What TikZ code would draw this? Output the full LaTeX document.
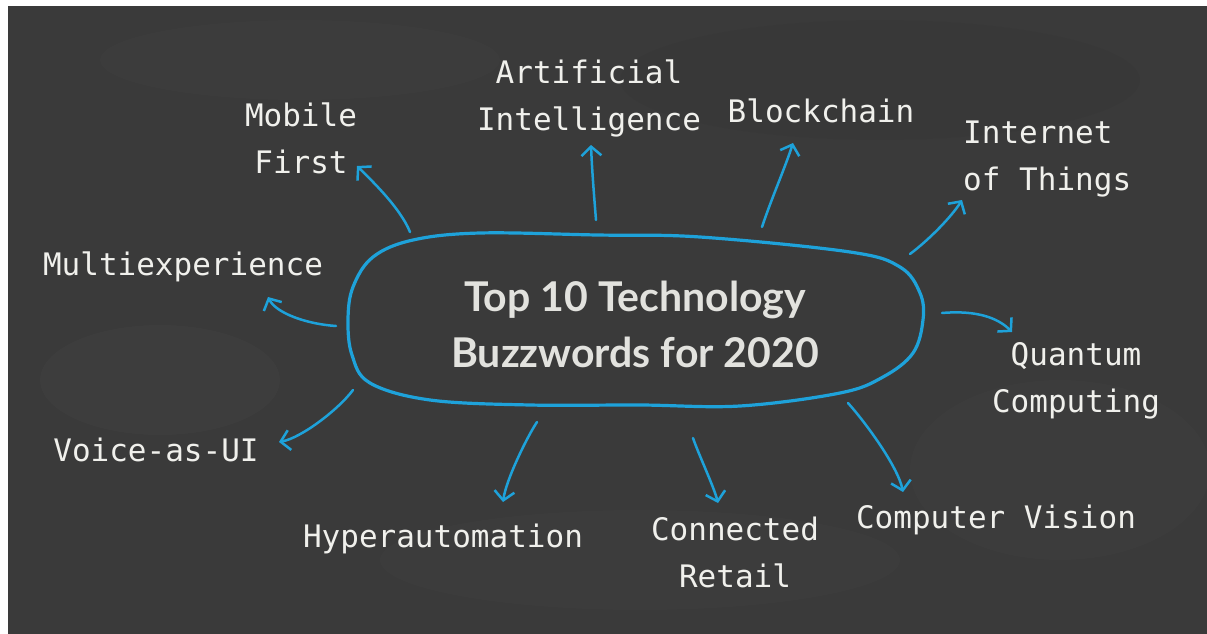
\documentclass[tikz,border=0pt]{standalone}
\usepackage{fontspec}
\usetikzlibrary{arrows.meta}
\newfontfamily\chalkfont{DejaVu Sans Mono}
\newfontfamily\titlefont{Lato}
\definecolor{board}{RGB}{58,58,58}
\definecolor{chalkblue}{RGB}{30,162,218}
\definecolor{chalk}{RGB}{240,240,236}
\definecolor{chalkgrey}{RGB}{226,226,222}

\begin{document}
\begin{tikzpicture}[x=1pt,y=-1pt,
  word/.style={text=chalk, font=\chalkfont\fontsize{31}{47}\selectfont,
    align=center, inner sep=0pt, anchor=base},
  pointer/.style={draw=chalkblue, line width=2.5pt, line cap=round,
    -{Straight Barb[length=9pt,width=20pt,line width=2.5pt]}},
  loop/.style={draw=chalkblue, line width=3.2pt, line cap=round},
]
% page and chalkboard
\useasboundingbox (0,0) rectangle (1207,634);
\fill[white] (0,0) rectangle (1207,634);
\fill[board] (8,6) rectangle (1207,634);
% faint chalk smudges on the board
\fill[white, opacity=0.014] (160,380) ellipse (120 and 55);
\fill[white, opacity=0.012] (640,560) ellipse (260 and 50);
\fill[white, opacity=0.012] (1060,470) ellipse (150 and 90);
\fill[white, opacity=0.012] (300,60) ellipse (200 and 40);
\fill[black, opacity=0.025] (880,80) ellipse (260 and 60);

% central loop
\draw[loop] plot[smooth cycle, tension=0.6] coordinates {
  (348,320) (353,287) (373,257) (413,240) (480,233) (597,235) (700,237)
  (850,252) (900,267) (920,293) (923,320) (913,353) (883,377) (840,393)
  (740,406) (640,405) (530,405) (430,400) (370,383) (352,355)};

% title (anchored at the baseline of its last line)
\node[text=chalkgrey, font=\titlefont\bfseries\fontsize{41}{56}\selectfont,
  align=center, inner sep=0pt, anchor=base] (title) at (635,367)
  {Top 10 Technology\\Buzzwords for 2020};

% labels (multi-line ones anchored at the baseline of their last line)
\node[word] (mobile) at (301,173) {Mobile\\First};
\node[word] (ai) at (589,130) {Artificial\\Intelligence};
\node[word] (block) at (821,122) {Blockchain};
\node[word, align=left, anchor=base west] (iot) at (963,190) {Internet\\of Things};
\node[word] (multi) at (183,275) {Multiexperience};
\node[word] (quantum) at (1076,412) {Quantum\\Computing};
\node[word] (voice) at (156,461) {Voice-as-UI};
\node[word] (hyper) at (443,547) {Hyperautomation};
\node[word] (retail) at (735,587) {Connected\\Retail};
\node[word] (vision) at (996,528) {Computer Vision};

% arrow ends
\coordinate (s1) at (410,232);  \coordinate (t1) at (357,166);
\coordinate (s2) at (336,326);  \coordinate (t2) at (268,297);
\coordinate (s3) at (353,390);  \coordinate (t3) at (279,442);
\coordinate (s4) at (537,422);  \coordinate (t4) at (503,502);
\coordinate (s5) at (693,438);  \coordinate (t5) at (718,503);
\coordinate (s6) at (848,403);  \coordinate (t6) at (903,492);
\coordinate (s7) at (942,313);  \coordinate (t7) at (1012,332);
\coordinate (s8) at (910,254);  \coordinate (t8) at (962,200);
\coordinate (s9) at (596,220);  \coordinate (t9) at (591,145);
\coordinate (s10) at (762,227); \coordinate (t10) at (793,143);

% arrows
\draw[pointer] (s1) .. controls +(-10,-25) and +(12,12) .. (t1);
\draw[pointer] (s2) .. controls +(-30,-2) and +(8,16) .. (t2);
\draw[pointer] (s3) .. controls +(-15,20) and +(22,-4) .. (t3);
\draw[pointer] (s4) .. controls +(-10,15) and +(3,-22) .. (t4);
\draw[pointer] (s5) .. controls +(5,15) and +(-4,-16) .. (t5);
\draw[pointer] (s6) .. controls +(18,20) and +(-5,-25) .. (t6);
\draw[pointer] (s7) .. controls +(35,-3) and +(-14,-14) .. (t7);
\draw[pointer] (s8) .. controls +(20,-15) and +(-10,16) .. (t8);
\draw[pointer] (s9) .. controls +(-2,-25) and +(1,25) .. (t9);
\draw[pointer] (s10) .. controls +(10,-30) and +(-8,25) .. (t10);
\end{tikzpicture}
\end{document}
